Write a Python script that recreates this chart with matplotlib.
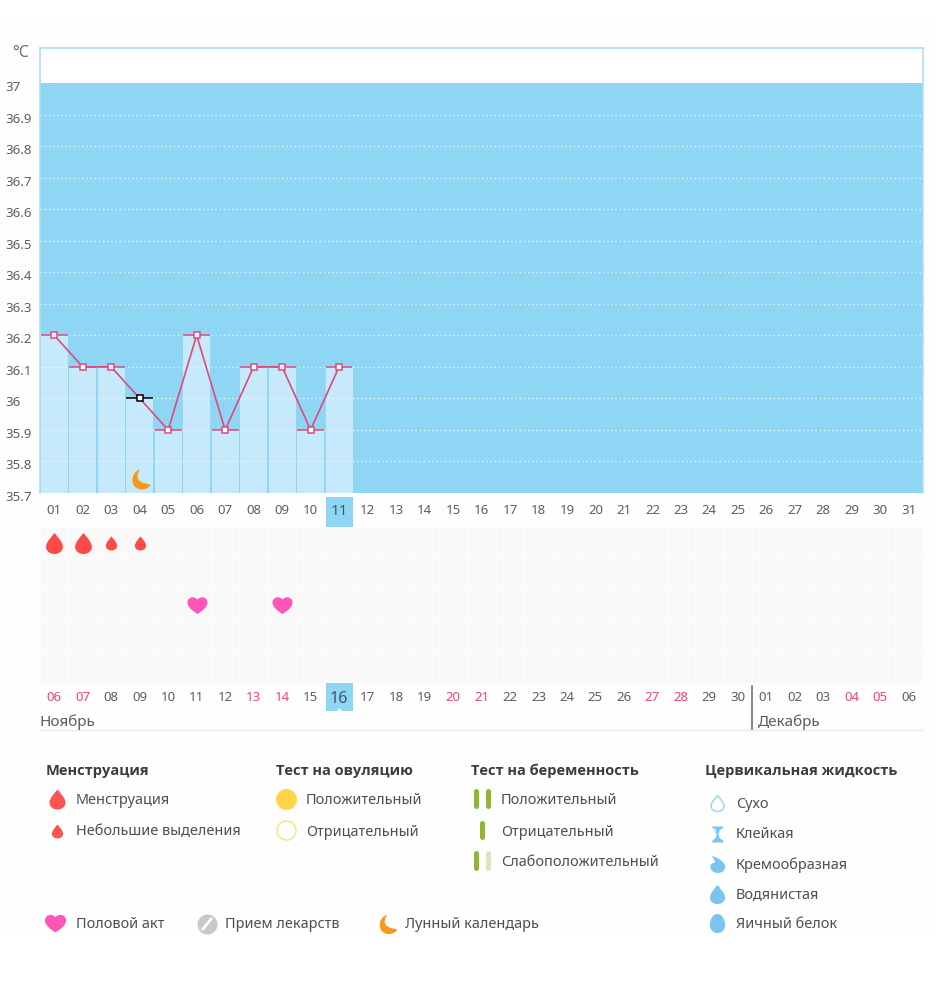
import matplotlib
matplotlib.use("Agg")
import numpy as np
import matplotlib.pyplot as plt
from matplotlib.path import Path
from matplotlib.patches import Rectangle
from matplotlib.transforms import ScaledTranslation

plt.rcParams["font.family"] = ["Noto Sans", "DejaVu Sans"]

# data
y_ticks = [35.7, 35.8, 35.9, 36, 36.1, 36.2, 36.3, 36.4, 36.5, 36.6, 36.7, 36.8, 36.9, 37]
y_labels = ["35.7", "35.8", "35.9", "36", "36.1", "36.2", "36.3", "36.4", "36.5", "36.6", "36.7", "36.8", "36.9", "37"]
days = np.arange(1, 32)
cycle_labels = [f"{d:02d}" for d in days]
date_labels = ["06", "07", "08", "09", "10", "11", "12", "13", "14", "15", "16", "17", "18", "19", "20", "21",
               "22", "23", "24", "25", "26", "27", "28", "29", "30", "01", "02", "03", "04", "05", "06"]
weekend_cols = [1, 2, 8, 9, 15, 16, 22, 23, 29, 30]
temp_days = np.arange(1, 12)
temps = np.array([36.2, 36.1, 36.1, 36.0, 35.9, 36.2, 35.9, 36.1, 36.1, 35.9, 36.1])
excluded_day = 4
heavy_days = [1, 2]
light_days = [3, 4]
heart_days = [6, 9]
moon_days = [4]
today_col = 11

BLUE = "#8fd6f4"
BAR = "#c6eafb"
PINK = "#dc4a7c"
RED = "#ff4a4a"
TEXT = "#5e5e5e"
DARK = "#3c3c3c"
W, H = 937, 1000

# marker shapes
M, C, L, Z = Path.MOVETO, Path.CURVE4, Path.LINETO, Path.CLOSEPOLY
drop = Path([(0, 1), (0.25, 0.68), (0.8, 0.15), (0.8, -0.33), (0.8, -0.75), (0.42, -1), (0, -1),
             (-0.42, -1), (-0.8, -0.75), (-0.8, -0.33), (-0.8, 0.15), (-0.25, 0.68), (0, 1), (0, 1)],
            [M, C, C, C, C, C, C, C, C, C, C, C, C, Z])
heart = Path([(0, -0.85), (-0.55, -0.5), (-1, -0.15), (-1, 0.3), (-1, 0.65), (-0.72, 0.82), (-0.48, 0.82),
              (-0.25, 0.82), (-0.08, 0.72), (0, 0.58), (0.08, 0.72), (0.25, 0.82), (0.48, 0.82),
              (0.72, 0.82), (1, 0.65), (1, 0.3), (1, -0.15), (0.55, -0.5), (0, -0.85), (0, -0.85)],
             [M, C, C, C, C, C, C, C, C, C, C, C, C, C, C, C, C, C, C, Z])
moon = Path([(-0.05, 1), (-1.1, 0.75), (-1.1, -1.0), (0.15, -1), (0.6, -1), (0.95, -0.75), (1, -0.5),
             (0.05, -0.35), (-0.7, -0.1), (-0.05, 1), (-0.05, 1)],
            [M, C, C, C, C, C, C, C, C, C, Z])
hourglass = Path([(-0.7, 1), (0.7, 1), (0.7, 0.75), (0.25, 0.7), (0.15, 0.3), (0.15, 0), (0.15, -0.3),
                  (0.3, -0.6), (0.7, -0.7), (0.7, -1), (-0.7, -1), (-0.7, -0.7), (-0.3, -0.6), (-0.15, -0.3),
                  (-0.15, 0), (-0.15, 0.3), (-0.25, 0.7), (-0.7, 0.75), (-0.7, 1)],
                 [M, L, L, C, C, C, C, C, C, L, L, C, C, C, C, C, C, C, Z])
creamy = Path([(-0.75, 1), (0.1, 0.85), (0.9, 0.25), (0.9, -0.25), (0.9, -0.75), (0.45, -1), (0.05, -1),
               (-0.45, -1), (-0.85, -0.7), (-0.85, -0.25), (-0.85, 0.05), (-0.6, 0.2), (-0.3, 0.18),
               (-0.3, 0.5), (-0.5, 0.8), (-0.75, 1), (-0.75, 1)],
              [M, C, C, C, C, C, C, C, C, C, C, C, C, C, C, C, Z])
egg = Path([(0, 1), (0.5, 1), (0.8, 0.4), (0.8, -0.15), (0.8, -0.7), (0.45, -1), (0, -1),
            (-0.45, -1), (-0.8, -0.7), (-0.8, -0.15), (-0.8, 0.4), (-0.5, 1), (0, 1), (0, 1)],
           [M, C, C, C, C, C, C, C, C, C, C, C, C, Z])


def box(left, top, right, bottom):
    return [left / W, 1 - bottom / H, (right - left) / W, (bottom - top) / H]


def ms(px):
    return px * 72 / 100


fig = plt.figure(figsize=(W / 100, H / 100), dpi=100, facecolor="#fdfefd")

# page layer, pixel coordinates
page = fig.add_axes([0, 0, 1, 1], zorder=0)
page.set_xlim(0, W)
page.set_ylim(H, 0)
page.axis("off")
page.add_patch(Rectangle((0, 933), W, 67, color="white", lw=0))
page.add_patch(Rectangle((0, 0), W, 20, color="white", lw=0))
page.add_patch(Rectangle((326, 497), 27, 30, color=BLUE, lw=0))
page.fill([326, 353, 353, 342, 339.5, 337, 326], [683, 683, 711, 711, 708, 711, 711], color=BLUE, lw=0)
page.plot([40, 923], [729.5, 729.5], color="#e9ebeb", lw=1)
page.plot([752, 752], [686, 729], color="#666666", lw=1.1)
page.text(12, 53, "°C", fontsize=11.5, color="#6a6a6a", va="center")
page.text(40, 722, "Ноябрь", fontsize=11, color=TEXT, va="center")
page.text(758, 722, "Декабрь", fontsize=11, color=TEXT, va="center")

# temperature chart
ax = fig.add_axes(box(40, 48, 923, 493), zorder=2)
ax.set_xlim(0.5, 31.5)
ax.set_ylim(35.7, 37 + 35 / 315)
ax.set_facecolor("white")
for side, spine in ax.spines.items():
    spine.set_color("#a5def6")
    spine.set_linewidth(1.1)
ax.spines["bottom"].set_visible(False)
ax.axhspan(35.7, 37, color=BLUE, lw=0, zorder=1)
ax.bar(temp_days, temps - 35.7, bottom=35.7, width=0.95, color=BAR, zorder=2)
for t in y_ticks[1:-1]:
    ax.axhline(t, color="white", lw=1, ls=(0, (1, 2)), alpha=0.7, zorder=3)
ax.plot(temp_days, temps, color=PINK, lw=1.2, zorder=4)
for d, t in zip(temp_days, temps):
    c = "black" if d == excluded_day else PINK
    ax.hlines(t, d - 0.47, d + 0.47, color=c, lw=1.1, zorder=5)
    ax.plot(d, t, marker="s", ms=4.6, mfc="white", mec=c, mew=1.1, zorder=6)
ax.plot(moon_days, [35.745] * len(moon_days), ls="", marker=moon, ms=ms(22), color="#f29a1f", mew=0, zorder=6)

ax.set_yticks(y_ticks)
ax.set_yticklabels(y_labels, ha="left", fontsize=9.5, color=TEXT)
ax.tick_params(axis="y", length=0, pad=25)
for lab in ax.get_yticklabels():
    lab.set_transform(lab.get_transform() + ScaledTranslation(0, -3 / 100, fig.dpi_scale_trans))
ax.set_xticks(days)
ax.set_xticklabels(cycle_labels, fontsize=9.5, color=TEXT)
ax.tick_params(axis="x", length=0, pad=8)
ax.get_xticklabels()[today_col - 1].set_fontsize(11)
ax.get_xticklabels()[today_col - 1].set_color("#3f5966")

# symbol grid
grid = fig.add_axes(box(40, 527, 923, 683), zorder=1)
grid.set_xlim(0.5, 31.5)
grid.set_ylim(5.5, 0.5)
grid.set_facecolor("#f9f9fa")
for spine in grid.spines.values():
    spine.set_visible(False)
grid.set_xticks(np.arange(0.5, 32, 1), minor=True)
grid.set_yticks(np.arange(0.5, 6, 1), minor=True)
grid.grid(which="minor", color="#fefefe", lw=1)
grid.tick_params(which="both", length=0)
grid.set_yticks([])
grid.plot(heavy_days, [1] * len(heavy_days), ls="", marker=drop, ms=ms(21), color=RED, mew=0)
grid.plot(light_days, [1] * len(light_days), ls="", marker=drop, ms=ms(14), color=RED, mew=0)
grid.plot(heart_days, [3] * len(heart_days), ls="", marker=heart, ms=ms(20), color="#ff55b8", mew=0)
grid.set_xticks(days)
grid.set_xticklabels(date_labels, fontsize=9.5, color=TEXT)
grid.tick_params(axis="x", pad=6)
for col in weekend_cols:
    grid.get_xticklabels()[col - 1].set_color("#e8457c")
grid.get_xticklabels()[today_col - 1].set_fontsize(11.5)
grid.get_xticklabels()[today_col - 1].set_color("#3f5966")

# legend
legend_heads = [(46, "Менструация"), (276, "Тест на овуляцию"), (471, "Тест на беременность"), (705, "Цервикальная жидкость")]
for x, s in legend_heads:
    page.text(x, 771, s, fontsize=10.5, fontweight="bold", family="Open Sans", color=DARK, va="center")

legend_items = [
    (76, 800, "Менструация"), (76, 832, "Небольшие выделения"),
    (306, 800, "Положительный"), (306, 832, "Отрицательный"),
    (501, 800, "Положительный"), (501, 832, "Отрицательный"), (501, 862, "Слабоположительный"),
    (736, 804, "Сухо"), (736, 835, "Клейкая"), (736, 865, "Кремообразная"), (736, 895, "Водянистая"),
    (736, 925, "Яичный белок"),
    (76, 925, "Половой акт"), (225, 925, "Прием лекарств"), (405, 925, "Лунный календарь"),
]
for x, y, s in legend_items:
    page.text(x, y, s, fontsize=10.4, color="#4f4f4f", va="center")

page.plot(57, 799, marker=drop, ms=ms(20), color=RED, mew=0, alpha=0.95)
page.plot(57, 831, marker=drop, ms=ms(14), color=RED, mew=0, alpha=0.95)
page.plot(286, 799, marker="o", ms=ms(21), color="#ffd54a", mew=0)
page.plot(286, 830, marker="o", ms=ms(19), mfc="white", mec="#f5e59a", mew=1.2)
GREEN = "#8fb62e"
page.plot([476, 476], [791, 806], color=GREEN, lw=3.6, solid_capstyle="round")
page.plot([488, 488], [791, 806], color=GREEN, lw=3.6, solid_capstyle="round")
page.plot([482, 482], [823, 837], color=GREEN, lw=3.6, solid_capstyle="round")
page.plot([476, 476], [853, 868], color=GREEN, lw=3.6, solid_capstyle="round")
page.plot([488, 488], [853, 868], color="#dbe6bd", lw=3.6, solid_capstyle="round")
CF = "#7cc4f0"
page.plot(717, 803, marker=drop, ms=ms(16), mfc="white", mec="#a6d8f5", mew=1.2)
page.plot(717, 834, marker=hourglass, ms=ms(16), color=CF, mew=0)
page.plot(717, 864, marker=creamy, ms=ms(17), color=CF, mew=0)
page.plot(717, 894, marker=drop, ms=ms(19), color=CF, mew=0)
page.plot(717, 923, marker=egg, ms=ms(19), color=CF, mew=0)
page.plot(55, 923, marker=heart, ms=ms(21), color="#ff55b8", mew=0)
page.plot(207, 924, marker="o", ms=ms(20), color="#c9c9c9", mew=0)
page.plot([203, 211], [929, 919], color="white", lw=2)
page.plot(387, 924, marker=moon, ms=ms(21), color="#f29a1f", mew=0)

fig.savefig("out.png", dpi=100, facecolor=fig.get_facecolor())
